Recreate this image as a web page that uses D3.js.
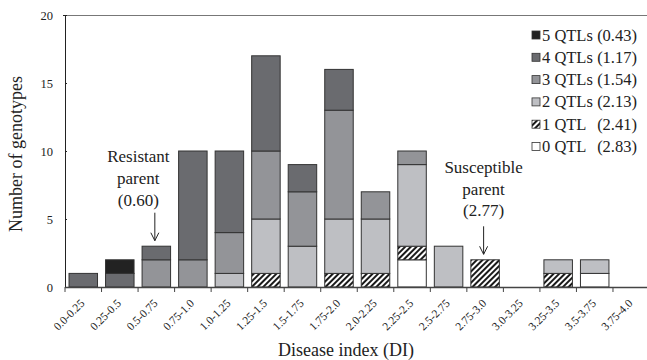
<!DOCTYPE html>
<html><head><meta charset="utf-8">
<script src="https://cdn.jsdelivr.net/npm/d3@7"></script>
<style>body{margin:0;background:#fff}svg{display:block}text{font-family:"Liberation Serif","Times New Roman",serif}</style>
</head><body><svg id="c" width="647" height="360"></svg>
<script>
const categories = ["0.0-0.25","0.25-0.5","0.5-0.75","0.75-1.0","1.0-1.25","1.25-1.5","1.5-1.75","1.75-2.0","2.0-2.25","2.25-2.5","2.5-2.75","2.75-3.0","3.0-3.25","3.25-3.5","3.5-3.75","3.75-4.0"];
const qtl0 = [0,0,0,0,0,0,0,0,0,2,0,0,0,0,1,0];
const qtl1 = [0,0,0,0,0,1,0,1,1,1,0,2,0,1,0,0];
const qtl2 = [0,0,0,0,1,4,3,4,4,6,3,0,0,1,1,0];
const qtl3 = [0,0,2,2,3,5,4,8,2,1,0,0,0,0,0,0];
const qtl4 = [1,1,1,8,6,7,2,3,0,0,0,0,0,0,0,0];
const qtl5 = [0,1,0,0,0,0,0,0,0,0,0,0,0,0,0,0];
const seriesNames = ["0 QTL","1 QTL","2 QTLs","3 QTLs","4 QTLs","5 QTLs"];
const seriesMeans = ["(2.83)","(2.41)","(2.13)","(1.54)","(1.17)","(0.43)"];
const yTicks = [0,5,10,15,20];
const parentLabels = [["Resistant","parent","(0.60)"],["Susceptible","parent","(2.77)"]];
const parentCats = ["0.5-0.75","2.75-3.0"];

const svg = d3.select("#c");
const defs = svg.append("defs");
const pat = defs.append("pattern").attr("id","hatch").attr("patternUnits","userSpaceOnUse")
  .attr("width",4).attr("height",4).attr("patternTransform","rotate(45)");
pat.append("rect").attr("width",4).attr("height",4).attr("fill","#fff");
pat.append("line").attr("x1",1).attr("y1",0).attr("x2",1).attr("y2",4).attr("stroke","#000").attr("stroke-width",1.8);

const fills = ["#ffffff","url(#hatch)","#bebfc3","#939498","#6a6b6f","#222222"];
const table = categories.map((c,i)=>({cat:c, s0:qtl0[i], s1:qtl1[i], s2:qtl2[i], s3:qtl3[i], s4:qtl4[i], s5:qtl5[i]}));
const keys = ["s0","s1","s2","s3","s4","s5"];
const stacked = d3.stack().keys(keys)(table);

const mLeft = 65, mRight = 649.5, mTop = 15, mBottom = 287;
const x = d3.scaleBand().domain(categories).range([mLeft,mRight]).paddingInner(0.22).paddingOuter(0.11);
const y = d3.scaleLinear().domain([0,20]).range([mBottom,mTop]);

// frame
svg.append("line").attr("x1",mLeft).attr("x2",647).attr("y1",mTop+0.5).attr("y2",mTop+0.5).attr("stroke","#777").attr("stroke-width",1);

// bars
stacked.forEach((layer,li)=>{
  svg.append("g").selectAll("rect").data(layer.filter(d=>d[1]>d[0])).join("rect")
    .attr("x",d=>x(d.data.cat)).attr("width",x.bandwidth())
    .attr("y",d=>y(d[1])).attr("height",d=>y(d[0])-y(d[1]))
    .attr("fill",fills[li]).attr("stroke","#333").attr("stroke-width",1);
});

// y axis
const ya = svg.append("g").attr("transform",`translate(${mLeft},0)`)
  .call(d3.axisLeft(y).tickValues(yTicks).tickSize(-2).tickPadding(12));
ya.select(".domain").attr("stroke","#222").attr("d",`M-2,${mTop+0.5}H0.5V${mBottom}`);
ya.selectAll(".tick line").attr("stroke","#222");
ya.selectAll("text").attr("font-size",12.5).attr("fill","#222");

// x axis
const xa = svg.append("g").attr("transform",`translate(0,${mBottom})`);
xa.append("line").attr("x1",mLeft).attr("x2",647).attr("y1",0.5).attr("y2",0.5).attr("stroke","#444").attr("stroke-width",1.5);
const bounds = categories.map(c=>x(c)-x.step()*x.paddingInner()/2).concat([x(categories[categories.length-1])+x.bandwidth()+x.step()*x.paddingInner()/2]);
xa.selectAll("line.t").data(bounds).join("line").attr("class","t")
  .attr("x1",d=>d).attr("x2",d=>d).attr("y1",0).attr("y2",5).attr("stroke","#444");
xa.selectAll("text").data(categories).join("text")
  .attr("transform",d=>`translate(${x(d)+x.bandwidth()/2+2},${17}) rotate(-45)`)
  .attr("text-anchor","end").attr("font-size",11.5).attr("fill","#222").text(d=>d);

// axis titles
svg.append("text").attr("x",346).attr("y",356).attr("text-anchor","middle").attr("font-size",18).attr("fill","#222").text("Disease index (DI)");
svg.append("text").attr("transform","translate(22,154) rotate(-90)").attr("text-anchor","middle").attr("font-size",18).attr("fill","#222").text("Number of genotypes");

// legend
const order = [5,4,3,2,1,0];
const lg = svg.append("g");
order.forEach((si,r)=>{
  const cy = 35 + r*22.3;
  lg.append("rect").attr("x",532).attr("y",cy-4).attr("width",8).attr("height",8).attr("fill",fills[si]).attr("stroke","#333").attr("stroke-width",0.8);
  lg.append("text").attr("x",542).attr("y",cy+5.5).attr("font-size",16.5).attr("fill","#222").text(seriesNames[si]);
  lg.append("text").attr("x",637).attr("y",cy+5.5).attr("text-anchor","end").attr("font-size",16.5).attr("fill","#222").text(seriesMeans[si]);
});

// parent annotations
const textShift = [-16.5, 0], textGap = [7, 10];
parentCats.forEach((cat,k)=>{
  const i = categories.indexOf(cat);
  const total = keys.reduce((s,kk)=>s+table[i][kk],0);
  const cx = x(cat)+x.bandwidth()/2 - 1.5;
  const yEnd = y(total)-5.5, yStart = yEnd-28;
  const tcx = cx + textShift[k];
  parentLabels[k].forEach((t,j)=>{
    svg.append("text").attr("x",tcx).attr("y",yStart-textGap[k]-(2-j)*21.8).attr("text-anchor","middle").attr("font-size",17).attr("fill","#222").text(t);
  });
  svg.append("path").attr("d",`M${cx},${yStart}V${yEnd}M${cx-4},${yEnd-8}L${cx},${yEnd}L${cx+4},${yEnd-8}`)
    .attr("fill","none").attr("stroke","#222").attr("stroke-width",1);
});
</script></body></html>
